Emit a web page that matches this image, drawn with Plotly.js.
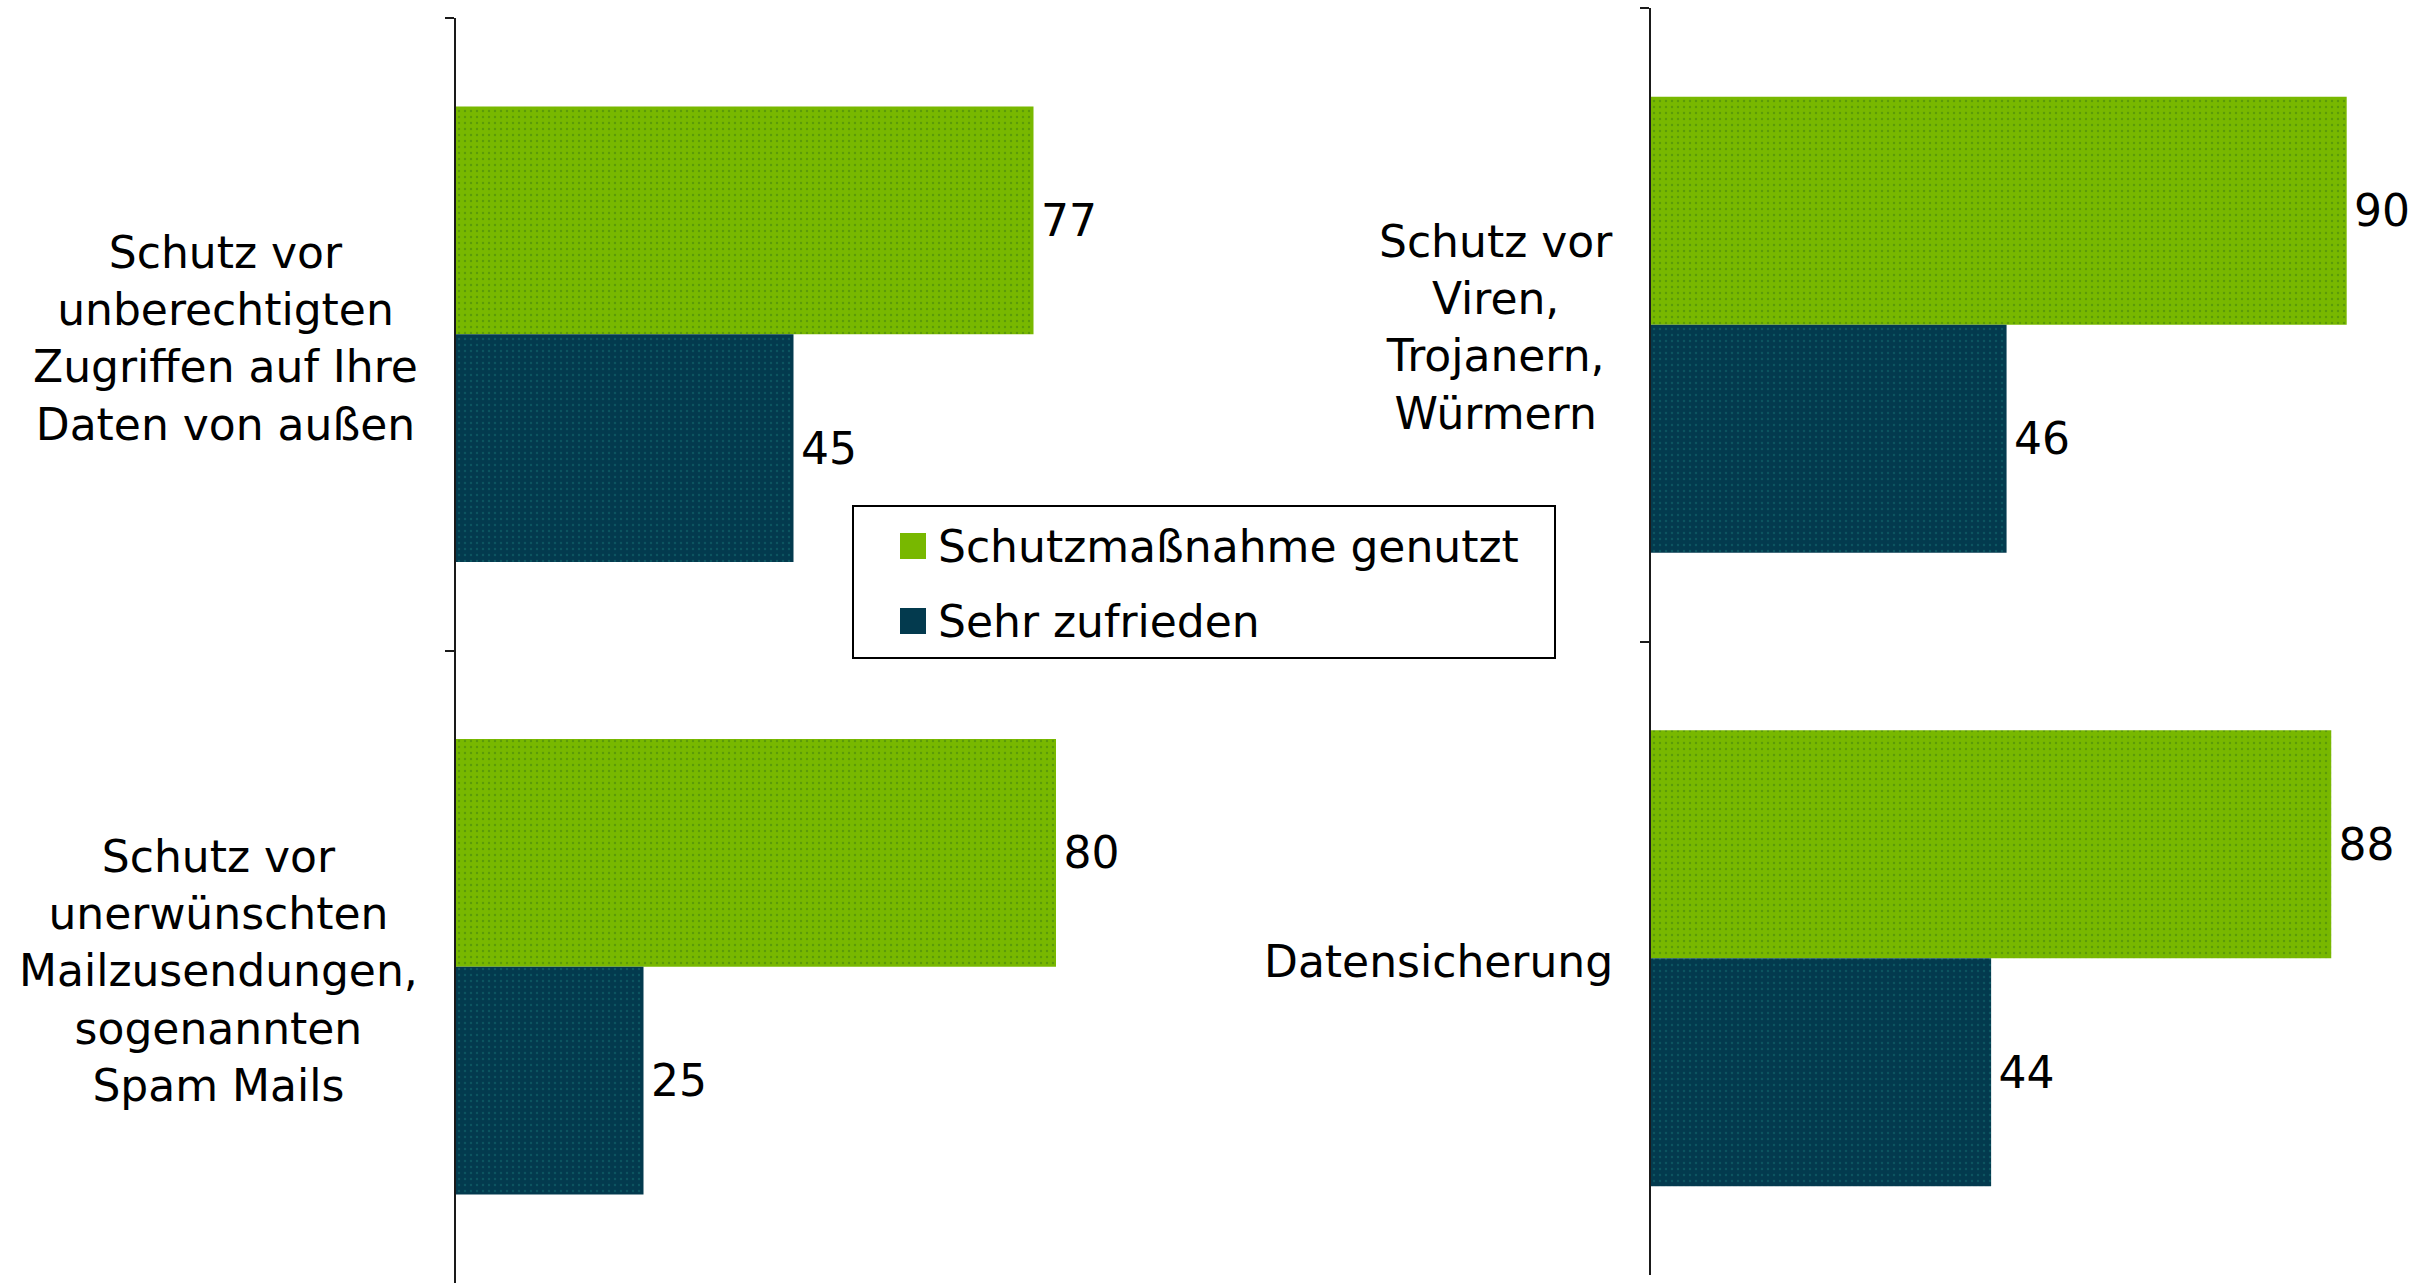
<!DOCTYPE html>
<html>
<head>
<meta charset="utf-8">
<script src="https://cdn.plot.ly/plotly-3.0.1.min.js"></script>
<style>html,body{margin:0;padding:0;background:#fff;}#chart{width:2433px;height:1285px;}</style>
</head>
<body>
<div id="chart"></div>
<script>
// ---- data ----
const seriesNames = ["Schutzmaßnahme genutzt", "Sehr zufrieden"];
const categoriesLeft = [
  "Schutz vor<br>unberechtigten<br>Zugriffen auf Ihre<br>Daten von außen",
  "Schutz vor<br>unerwünschten<br>Mailzusendungen,<br>sogenannten<br>Spam Mails"
];
const categoriesRight = [
  "Schutz vor<br>Viren,<br>Trojanern,<br>Würmern",
  "Datensicherung"
];
const usedLeft = [77, 80];
const satisfiedLeft = [45, 25];
const usedRight = [90, 88];
const satisfiedRight = [46, 44];

// ---- styling ----
const W = 2433, H = 1285;
const FONT = "DejaVu Sans, Verdana, sans-serif";
const FS = 44;
const colors = ["#78b800", "#033a4e"];
const dotColors = ["#5a9a08", "#0c5560"];
const px = x => x / W;
const py = y => 1 - y / H;

function barTrace(name, cats, vals, i, xa, ya) {
  return {
    type: "bar", orientation: "h", name: name,
    y: cats, x: vals, xaxis: xa, yaxis: ya,
    text: vals.map(v => "\u200A" + v), textposition: "outside",
    textfont: {family: FONT, size: FS, color: "#000"},
    cliponaxis: false,
    marker: {
      color: colors[i],
      line: {width: 0},
      pattern: {shape: ".", size: 6, solidity: 0.12, fgcolor: dotColors[i], bgcolor: colors[i], fillmode: "replace"}
    },
    showlegend: false, hoverinfo: "x+y"
  };
}

const data = [
  barTrace(seriesNames[0], categoriesLeft, usedLeft, 0, "x", "y"),
  barTrace(seriesNames[1], categoriesLeft, satisfiedLeft, 1, "x", "y"),
  barTrace(seriesNames[0], categoriesRight, usedRight, 0, "x2", "y2"),
  barTrace(seriesNames[1], categoriesRight, satisfiedRight, 1, "x2", "y2")
];

const yaxisBase = {
  type: "category", showticklabels: false, showgrid: false, zeroline: false,
  showline: true, linecolor: "#1a1a1a", linewidth: 2,
  ticks: "outside", tickson: "boundaries", ticklen: 9, tickwidth: 2, tickcolor: "#1a1a1a",
  range: [1.5, -0.5], fixedrange: true
};
const xaxisBase = {visible: false, range: [0, 100], fixedrange: true, showgrid: false, zeroline: false};

// category labels (centred lines, right-aligned block) built from category arrays
const annotations = [];
categoriesLeft.forEach(c => annotations.push({
  xref: "x domain", yref: "y", x: 0, y: c, xanchor: "right", yanchor: "middle",
  xshift: -36, yshift: -4, align: "center", showarrow: false, text: c,
  font: {family: FONT, size: FS, color: "#000"}
}));
categoriesRight.forEach(c => annotations.push({
  xref: "x2 domain", yref: "y2", x: 0, y: c, xanchor: "right", yanchor: "middle",
  xshift: -36, yshift: -3, align: "center", showarrow: false, text: c,
  font: {family: FONT, size: FS, color: "#000"}
}));

// legend drawn from series names
const legRowsY = [546, 621];
const shapes = [{
  type: "rect", xref: "paper", yref: "paper",
  x0: px(853), x1: px(1555), y0: py(658), y1: py(506),
  line: {color: "#000", width: 2}, fillcolor: "#fff"
}];
seriesNames.forEach((n, i) => {
  shapes.push({
    type: "rect", xref: "paper", yref: "paper",
    x0: px(900), x1: px(926), y0: py(legRowsY[i] + 13), y1: py(legRowsY[i] - 13),
    line: {width: 0}, fillcolor: colors[i]
  });
  annotations.push({
    xref: "paper", yref: "paper", x: px(936), y: py(legRowsY[i]),
    xanchor: "left", yanchor: "middle", showarrow: false, text: n,
    font: {family: FONT, size: FS, color: "#000"}
  });
});

const layout = {
  width: W, height: H,
  margin: {l: 0, r: 0, t: 0, b: 0},
  paper_bgcolor: "#fff", plot_bgcolor: "rgba(0,0,0,0)",
  font: {family: FONT, size: FS, color: "#000"},
  barmode: "group", bargap: 0.28, bargroupgap: 0,
  showlegend: false,
  xaxis: Object.assign({}, xaxisBase, {domain: [px(456), px(1206)], anchor: "y"}),
  yaxis: Object.assign({}, yaxisBase, {domain: [py(1283), py(18)], anchor: "x"}),
  xaxis2: Object.assign({}, xaxisBase, {domain: [px(1651), px(2424)], anchor: "y2"}),
  yaxis2: Object.assign({}, yaxisBase, {domain: [py(1275), py(8)], anchor: "x2"}),
  annotations: annotations,
  shapes: shapes
};

Plotly.newPlot("chart", data, layout, {displayModeBar: false, staticPlot: true});
</script>
</body>
</html>
